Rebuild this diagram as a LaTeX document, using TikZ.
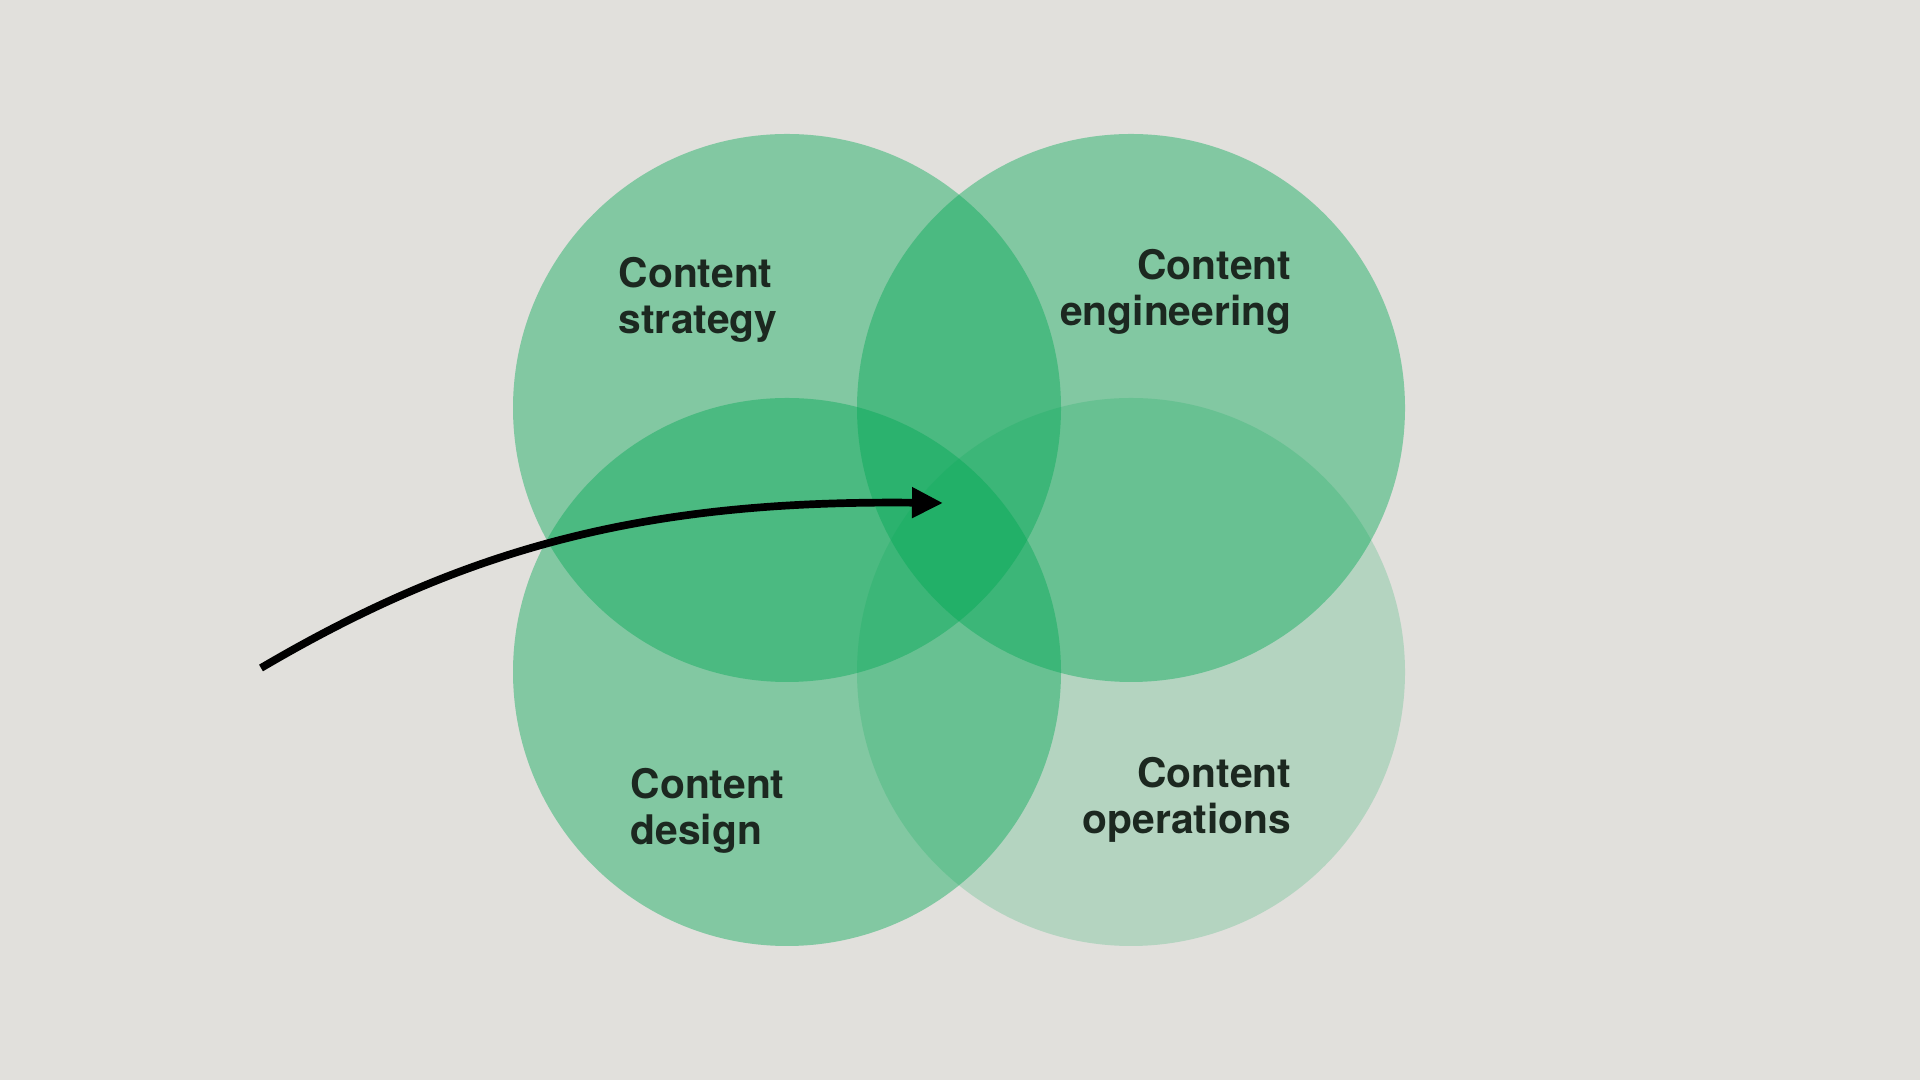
\documentclass[tikz,border=0pt]{standalone}
\usepackage{fontspec}
\setmainfont{TeX Gyre Heros}
\usetikzlibrary{arrows.meta}
\definecolor{paper}{RGB}{225,224,220}
\definecolor{venngreen}{RGB}{0,168,84}
\definecolor{labelink}{RGB}{28,40,32}
\tikzset{
  venn/.style={fill=venngreen, fill opacity=0.42},
  vennlight/.style={fill=venngreen, fill opacity=0.2},
  vennlabel/.style={inner sep=0pt, text=labelink,
    font=\fontsize{11.6}{13.1}\selectfont\bfseries}
}
\begin{document}
\begin{tikzpicture}
          \fill[paper] (0,0) rectangle (19.2,10.8);
          \useasboundingbox (0,0) rectangle (19.2,10.8);

          % Circles
          \fill[venn] (7.87,6.72) circle (2.74);
          \fill[venn] (11.31,6.72) circle (2.74);
          \fill[venn] (7.87,4.08) circle (2.74);
          \fill[vennlight] (11.31,4.08) circle (2.74);

          % Labels
          \node[vennlabel, anchor=base west, align=left] (strategy) at (6.18,7.46) {Content\\strategy};
          \node[vennlabel, anchor=base east, align=right] (engineering) at (12.92,7.545) {Content\\engineering};
          \node[vennlabel, anchor=base west, align=left] (design) at (6.30,2.354) {Content\\design};
          \node[vennlabel, anchor=base east, align=right] (operations) at (12.92,2.46) {Content\\operations};

          % Arrow into the middle
          \coordinate (start) at (2.61,4.12);
          \coordinate (target) at (9.43,5.77);
          \draw[line width=0.077cm, -{Triangle[length=3.1mm,width=2.9mm]}]
            (start) .. controls (4.7,5.35) and (6.5,5.8) .. (target);
        \end{tikzpicture}
\end{document}
